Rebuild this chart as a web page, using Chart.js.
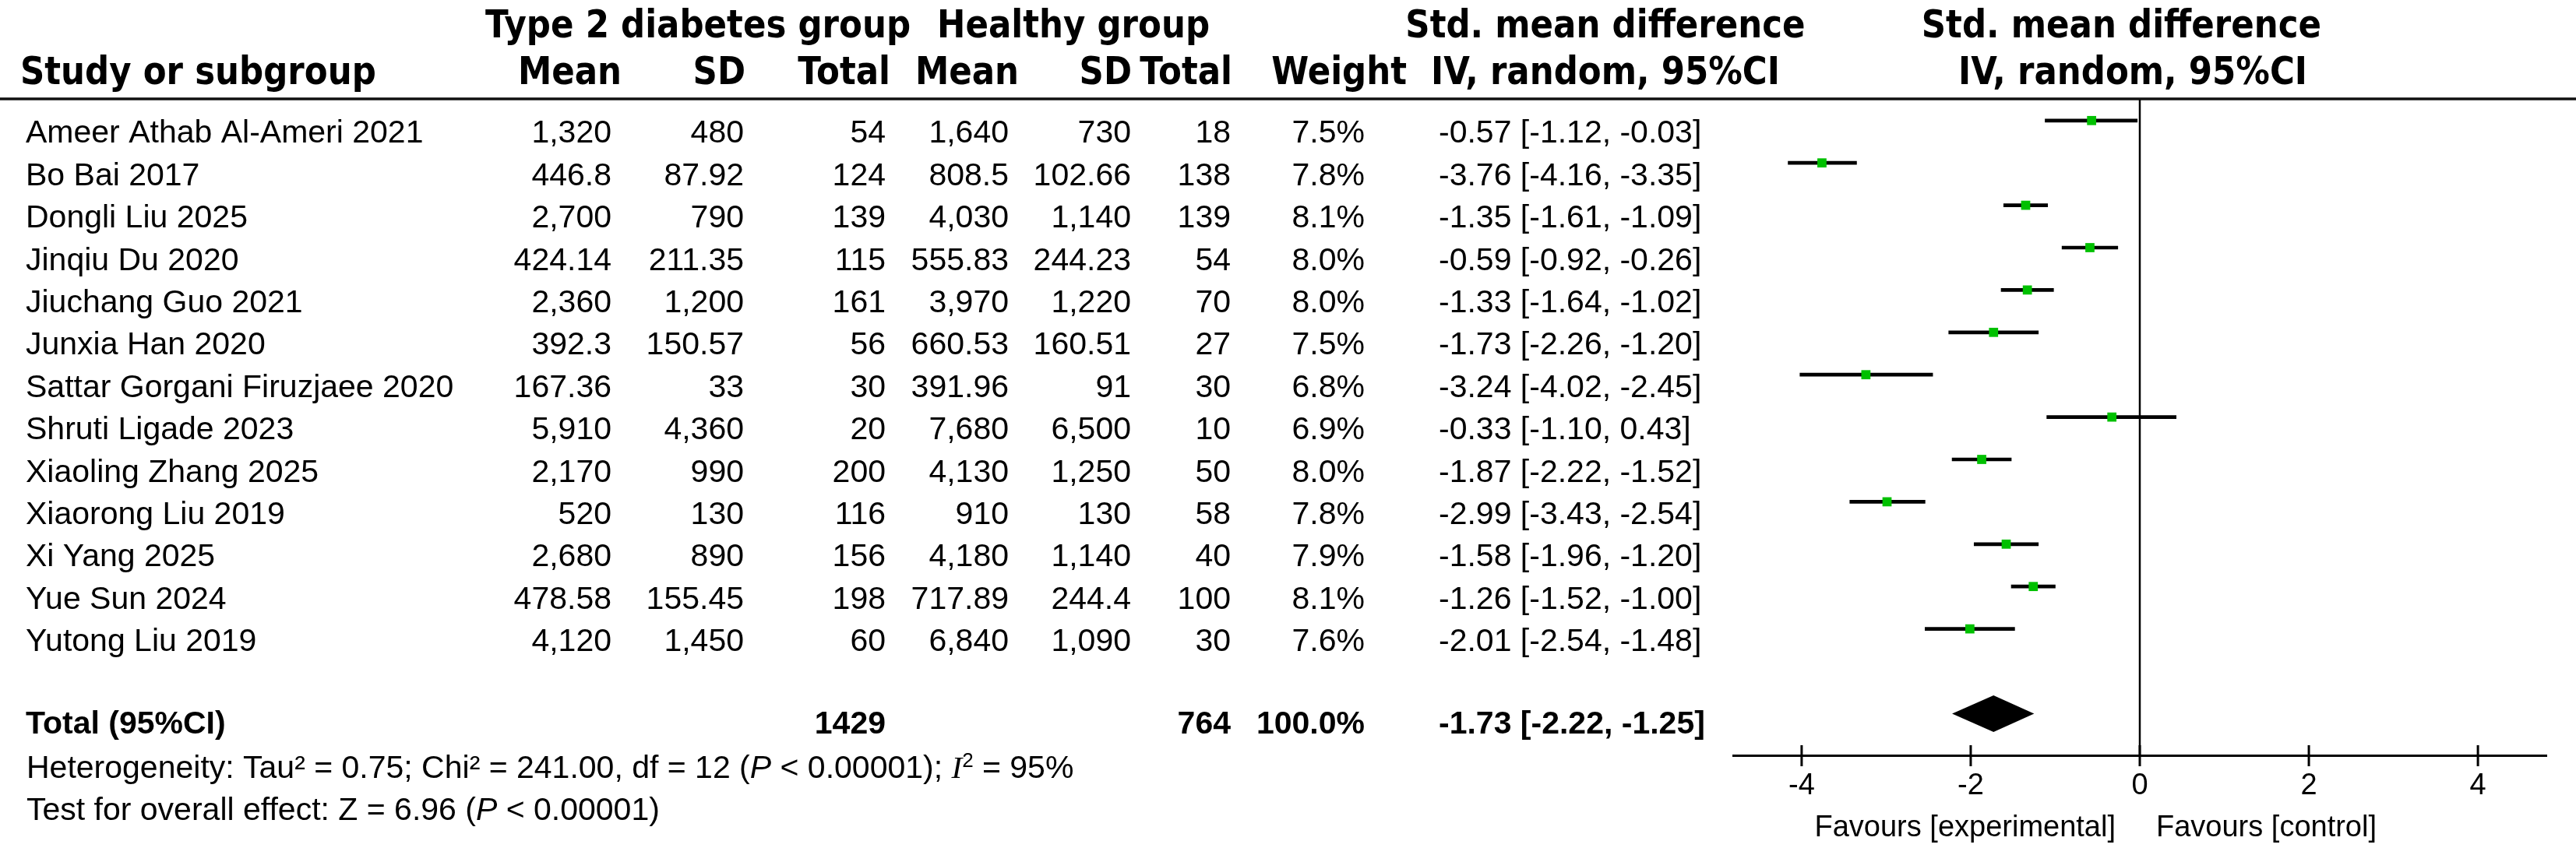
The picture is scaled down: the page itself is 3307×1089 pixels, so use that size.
<!DOCTYPE html>
<html>
<head>
<meta charset="utf-8">
<script src="https://cdn.jsdelivr.net/npm/chart.js@4/dist/chart.umd.min.js"></script>
<style>
  html, body { margin: 0; padding: 0; background: #fff; }
  canvas { display: block; }
</style>
</head>
<body>
<canvas id="forest" width="3307" height="1089"></canvas>
<script>
// study rows
var studies = ['Ameer Athab Al-Ameri 2021', 'Bo Bai 2017', 'Dongli Liu 2025', 'Jinqiu Du 2020',
  'Jiuchang Guo 2021', 'Junxia Han 2020', 'Sattar Gorgani Firuzjaee 2020', 'Shruti Ligade 2023',
  'Xiaoling Zhang 2025', 'Xiaorong Liu 2019', 'Xi Yang 2025', 'Yue Sun 2024', 'Yutong Liu 2019'];
var t2dMean = [1320, 446.8, 2700, 424.14, 2360, 392.3, 167.36, 5910, 2170, 520, 2680, 478.58, 4120];
var t2dSD = [480, 87.92, 790, 211.35, 1200, 150.57, 33, 4360, 990, 130, 890, 155.45, 1450];
var t2dTotal = [54, 124, 139, 115, 161, 56, 30, 20, 200, 116, 156, 198, 60];
var healthyMean = [1640, 808.5, 4030, 555.83, 3970, 660.53, 391.96, 7680, 4130, 910, 4180, 717.89, 6840];
var healthySD = [730, 102.66, 1140, 244.23, 1220, 160.51, 91, 6500, 1250, 130, 1140, 244.4, 1090];
var healthyTotal = [18, 138, 139, 54, 70, 27, 30, 10, 50, 58, 40, 100, 30];
var weights = [7.5, 7.8, 8.1, 8.0, 8.0, 7.5, 6.8, 6.9, 8.0, 7.8, 7.9, 8.1, 7.6];
var smd = [-0.57, -3.76, -1.35, -0.59, -1.33, -1.73, -3.24, -0.33, -1.87, -2.99, -1.58, -1.26, -2.01];
var ciLow = [-1.12, -4.16, -1.61, -0.92, -1.64, -2.26, -4.02, -1.10, -2.22, -3.43, -1.96, -1.52, -2.54];
var ciHigh = [-0.03, -3.35, -1.09, -0.26, -1.02, -1.20, -2.45, 0.43, -1.52, -2.54, -1.20, -1.00, -1.48];

// pooled result
var totalT2d = 1429;
var totalHealthy = 764;
var totalWeight = 100.0;
var totalSmd = -1.73;
var totalLow = -2.22;
var totalHigh = -1.25;
var totalRow = 14;

// axis
var tickValues = [-4, -2, 0, 2, 4];
var tickLabels = ['-4', '-2', '0', '2', '4'];
var axisMin = -4.81;
var axisMax = 4.81;

var ROW_H = 54.4;      // px between rows
var ROW0_Y = 154.8;    // px of first CI line

var BODY = '41px "Liberation Sans", Arial, sans-serif';
var BODYB = 'bold 41px "Liberation Sans", Arial, sans-serif';
var HEAD = 'bold 50px "DejaVu Sans", sans-serif';
var HSX = 0.87;
var GREEN = 'rgb(0,192,0)';

function fmt(v) {
  return v.toLocaleString('en-US', { maximumFractionDigits: 2 });
}
function ciText(m, l, h) {
  return m.toFixed(2) + ' [' + l.toFixed(2) + ', ' + h.toFixed(2) + ']';
}

// draw text with optional horizontal squeeze
function txt(ctx, s, x, y, align, font, sx) {
  sx = sx || 1;
  ctx.save();
  ctx.font = font;
  ctx.textAlign = 'left';
  ctx.textBaseline = 'alphabetic';
  ctx.fillStyle = '#000';
  var w = ctx.measureText(s).width * sx;
  var x0 = align === 'right' ? x - w : (align === 'center' ? x - w / 2 : x);
  ctx.translate(x0, y);
  ctx.scale(sx, 1);
  ctx.fillText(s, 0, 0);
  ctx.restore();
  return w;
}

// a line of mixed runs, left aligned
function runs(ctx, parts, x, y) {
  parts.forEach(function (p) {
    var yy = p.sup ? y - 14 : y;
    x += txt(ctx, p.t, x, yy, 'left', p.f || BODY);
  });
}

var forestTable = {
  id: 'forestTable',
  beforeDatasetsDraw: function (chart) {
    var ctx = chart.ctx;
    var xs = chart.scales.x;
    var area = chart.chartArea;
    ctx.save();
    // header rule
    ctx.strokeStyle = '#111';
    ctx.lineWidth = 3.5;
    ctx.beginPath();
    ctx.moveTo(0, 127);
    ctx.lineTo(chart.width, 127);
    ctx.stroke();
    // line of no effect
    var x0 = xs.getPixelForValue(0);
    ctx.lineWidth = 2.5;
    ctx.strokeStyle = '#000';
    ctx.beginPath();
    ctx.moveTo(x0, 128);
    ctx.lineTo(x0, area.bottom);
    ctx.stroke();
    // tick marks crossing the axis
    ctx.lineWidth = 3;
    tickValues.forEach(function (v) {
      var px = xs.getPixelForValue(v);
      ctx.beginPath();
      ctx.moveTo(px, area.bottom - 13);
      ctx.lineTo(px, area.bottom + 14);
      ctx.stroke();
    });
    ctx.restore();
  },
  afterDatasetsDraw: function (chart) {
    var ctx = chart.ctx;
    var xs = chart.scales.x, ys = chart.scales.y;
    var area = chart.chartArea;

    // headers
    ctx.font = HEAD;
    var ivW = ctx.measureText('IV, random, 95%CI').width * HSX;
    var leftC = 1837 + ivW / 2;
    txt(ctx, 'Type 2 diabetes group', 623, 48, 'left', HEAD, HSX);
    txt(ctx, 'Healthy group', 1203, 48, 'left', HEAD, HSX);
    txt(ctx, 'Std. mean difference', leftC, 48, 'center', HEAD, HSX);
    txt(ctx, 'Std. mean difference', 2980, 48, 'right', HEAD, HSX);
    txt(ctx, 'Study or subgroup', 26, 108, 'left', HEAD, HSX);
    txt(ctx, 'Mean', 798, 108, 'right', HEAD, HSX);
    txt(ctx, 'SD', 957, 108, 'right', HEAD, HSX);
    txt(ctx, 'Total', 1143, 108, 'right', HEAD, HSX);
    txt(ctx, 'Mean', 1308, 108, 'right', HEAD, HSX);
    txt(ctx, 'SD', 1453, 108, 'right', HEAD, HSX);
    txt(ctx, 'Total', 1582, 108, 'right', HEAD, HSX);
    txt(ctx, 'Weight', 1806, 108, 'right', HEAD, HSX);
    txt(ctx, 'IV, random, 95%CI', leftC, 108, 'center', HEAD, HSX);
    txt(ctx, 'IV, random, 95%CI', 2962, 108, 'right', HEAD, HSX);

    // study rows
    studies.forEach(function (name, i) {
      var y = ys.getPixelForValue(i) + 28.5;
      txt(ctx, name, 33, y, 'left', BODY);
      txt(ctx, fmt(t2dMean[i]), 785, y, 'right', BODY);
      txt(ctx, fmt(t2dSD[i]), 955, y, 'right', BODY);
      txt(ctx, String(t2dTotal[i]), 1137, y, 'right', BODY);
      txt(ctx, fmt(healthyMean[i]), 1295, y, 'right', BODY);
      txt(ctx, fmt(healthySD[i]), 1452, y, 'right', BODY);
      txt(ctx, String(healthyTotal[i]), 1580, y, 'right', BODY);
      txt(ctx, weights[i].toFixed(1) + '%', 1752, y, 'right', BODY);
      txt(ctx, ciText(smd[i], ciLow[i], ciHigh[i]), 1847, y, 'left', BODY);
    });

    // total row
    var ty = ys.getPixelForValue(totalRow) + 26;
    txt(ctx, 'Total (95%CI)', 33, ty, 'left', BODYB);
    txt(ctx, String(totalT2d), 1137, ty, 'right', BODYB);
    txt(ctx, String(totalHealthy), 1580, ty, 'right', BODYB);
    txt(ctx, totalWeight.toFixed(1) + '%', 1752, ty, 'right', BODYB);
    txt(ctx, ciText(totalSmd, totalLow, totalHigh), 1847, ty, 'left', BODYB);

    // pooled diamond
    var dy = ys.getPixelForValue(totalRow);
    ctx.save();
    ctx.fillStyle = '#000';
    ctx.beginPath();
    ctx.moveTo(xs.getPixelForValue(totalLow), dy);
    ctx.lineTo(xs.getPixelForValue(totalSmd), dy - 23.5);
    ctx.lineTo(xs.getPixelForValue(totalHigh), dy);
    ctx.lineTo(xs.getPixelForValue(totalSmd), dy + 23.5);
    ctx.closePath();
    ctx.fill();
    ctx.restore();

    // heterogeneity and overall effect
    var hy = ys.getPixelForValue(totalRow + 1) + 28;
    var IT = 'italic 41px "Liberation Sans", Arial, sans-serif';
    runs(ctx, [
      { t: 'Heterogeneity: Tau\u00b2 = 0.75; Chi\u00b2 = 241.00, df = 12 (' },
      { t: 'P', f: IT },
      { t: ' < 0.00001); ' },
      { t: 'I', f: 'italic 41px "Liberation Serif", serif' },
      { t: '2', f: '26px "Liberation Sans", Arial, sans-serif', sup: true },
      { t: ' = 95%' }
    ], 34, hy);
    var zy = ys.getPixelForValue(totalRow + 2) + 28;
    runs(ctx, [
      { t: 'Test for overall effect: Z = 6.96 (' },
      { t: 'P', f: IT },
      { t: ' < 0.00001)' }
    ], 34, zy);

    // favours labels
    var x0 = xs.getPixelForValue(0);
    var FAV = '38px "Liberation Sans", Arial, sans-serif';
    txt(ctx, 'Favours [experimental]', x0 - 31, area.bottom + 104, 'right', FAV);
    txt(ctx, 'Favours [control]', x0 + 21, area.bottom + 104, 'left', FAV);
  }
};

var rowIdx = studies.map(function (s, i) { return i; });

var chart = new Chart(document.getElementById('forest'), {
  type: 'bar',
  data: {
    datasets: [
      {
        type: 'bar',
        indexAxis: 'y',
        data: rowIdx.map(function (i) { return { y: i, x: [ciLow[i], ciHigh[i]] }; }),
        backgroundColor: '#000',
        borderWidth: 0,
        barThickness: 4,
        order: 2
      },
      {
        type: 'scatter',
        data: rowIdx.map(function (i) { return { x: smd[i], y: i }; }),
        pointStyle: 'rect',
        pointRadius: 8.3,
        pointBackgroundColor: GREEN,
        pointBorderWidth: 0,
        showLine: false,
        order: 1
      }
    ]
  },
  options: {
    responsive: false,
    animation: false,
    devicePixelRatio: 1,
    events: [],
    layout: { autoPadding: false, padding: { left: 2225, right: 38, top: 13, bottom: 0 } },
    scales: {
      x: {
        type: 'linear',
        position: 'bottom',
        offset: false,
        min: axisMin,
        max: axisMax,
        afterBuildTicks: function (s) {
          s.ticks = tickValues.map(function (v) { return { value: v }; });
        },
        afterFit: function (s) { s.height = 119; },
        grid: { display: true, offset: false, drawOnChartArea: false, drawTicks: false },
        border: { display: true, color: '#000', width: 3 },
        ticks: {
          color: '#000',
          padding: 17,
          maxRotation: 0,
          font: { family: '"Liberation Sans", Arial, sans-serif', size: 38 },
          callback: function (v) { return tickLabels[tickValues.indexOf(v)]; }
        }
      },
      y: {
        type: 'linear',
        reverse: true,
        offset: false,
        min: -2.6,
        max: 15,
        display: false
      }
    },
    plugins: {
      legend: { display: false },
      tooltip: { enabled: false }
    }
  },
  plugins: [forestTable]
});

// fit the row scale so rows land at fixed pixel spacing
var a = chart.chartArea;
var yMin = -(ROW0_Y - a.top) / ROW_H;
chart.options.scales.y.min = yMin;
chart.options.scales.y.max = yMin + (a.bottom - a.top) / ROW_H;
chart.update();
</script>
</body>
</html>
